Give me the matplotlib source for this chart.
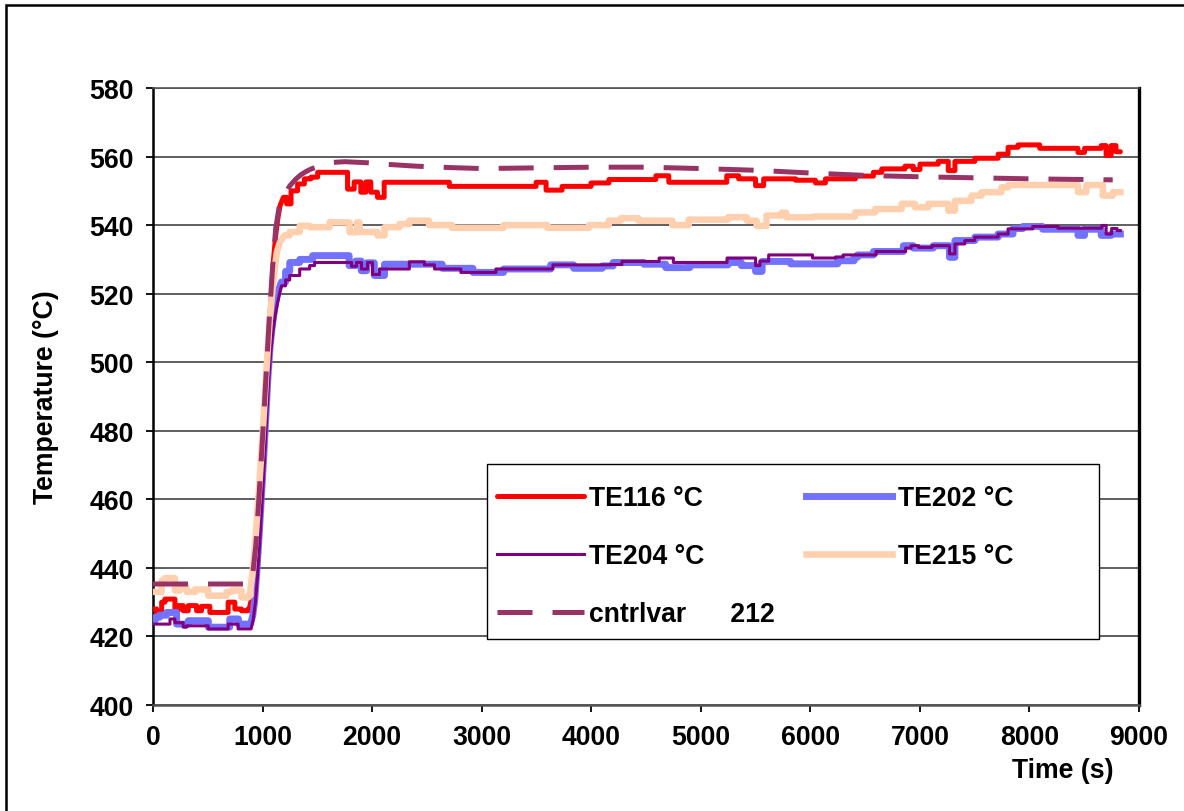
"""Thermocouple temperatures vs time, Excel-style line chart."""
import matplotlib
matplotlib.use("Agg")
import matplotlib.pyplot as plt
from matplotlib.patches import Rectangle

FS = 19.2
plt.rcParams.update({
    "font.family": ["Liberation Sans", "DejaVu Sans"],
    "font.weight": "bold",
    "font.size": FS,
})

# --- data -------------------------------------------------------------------
# logger holds each value until the next reading; during the heat-up ramp the
# points are joined directly
RAMP = (880, 1170)

red_t = [0, 33, 79, 109, 200, 231, 276, 322, 398, 443, 519, 686, 747, 808, 868,
         885, 900, 920, 940, 960, 980, 1000, 1020, 1040, 1060, 1080, 1100, 1120,
         1140, 1160, 1190, 1220, 1260, 1320, 1382, 1442, 1503, 1776, 1836, 1897,
         1943, 1988, 2049, 2110, 2705, 3497, 3588, 3734, 3998, 4162, 4590, 4708,
         5237, 5346, 5500, 5574, 5865, 6047, 6138, 6412, 6576, 6652, 6864, 6940,
         7001, 7168, 7259, 7320, 7502, 7714, 7805, 7896, 8094, 8443, 8503, 8655,
         8700, 8746, 8790, 8830]
red_v = [428, 427, 430, 430.9, 427.5, 429, 427.5, 429, 427.5, 428.8, 427, 430, 428,
         427.5, 428,
         429, 431, 436, 445, 455, 465, 476, 488, 499, 510, 520, 530, 537,
         542, 545.7, 548.1, 546.2, 550, 552, 553.5, 554, 555.4, 550.5, 552.6, 549.6,
         552.6, 549.6, 548.1, 552.5, 551.3, 552.5, 550.2, 551.3, 552.3, 553.3, 554.4, 552.5,
         554.4, 553.5, 551.5, 553.5, 553.1, 552.3, 553.5, 554.3, 555.4, 556.4, 557.2, 556.2,
         557.8, 558.6, 555.9, 558.6, 559.5, 560.7, 562.7, 563.4, 562.4, 561.2, 562.4, 563.2,
         560.3, 563.2, 561.4, 561.4]

blue_t = [0, 20, 60, 124, 215, 322, 505, 700, 780,
          890, 910, 930, 950, 970, 990, 1010, 1030, 1050, 1070, 1090, 1110, 1130,
          1150, 1172, 1210, 1248, 1339, 1457, 1790, 1850, 1900, 1950, 2020, 2113,
          2640, 2920, 3200, 3630, 3840, 4100, 4200, 4480, 4680, 4900, 5250, 5370,
          5500, 5560, 5820, 6250, 6400, 6430, 6576, 6849, 6940, 7122, 7270, 7320,
          7502, 7714, 7850, 7940, 8120, 8443, 8503, 8655, 8746, 8830]
blue_v = [424.6, 425.6, 426.2, 427, 423.6, 424.6, 422.7, 425.1, 423.6,
          423.6, 426, 431, 440, 450, 461, 472, 484, 496, 505, 511, 515.5, 519,
          521.5, 523.4, 526.5, 529.1, 530, 531.1, 528.2, 529.5, 526.7, 529, 525.3, 528.6,
          527.4, 526.2, 527.2, 528.4, 527.4, 528.1, 529.1, 528.6, 527.6, 528.4, 529.1, 528.2,
          526.5, 529.4, 528.7, 529.6, 530.6, 531.3, 532.3, 534, 533.3, 534, 530.6, 535.5,
          536.5, 537.4, 539, 539.6, 538.8, 537, 538.8, 537, 537.4, 537.4]

purple_t = [0, 155, 200, 276, 307, 504, 686, 777,
            895, 915, 935, 955, 975, 995, 1015, 1035, 1055, 1075, 1095, 1115, 1135,
            1155, 1172, 1210, 1248, 1339, 1430, 1475, 1812, 1858, 1903, 1958, 2004,
            2067, 2340, 2477, 2570, 2810, 3130, 3650, 4180, 4280, 4620, 4750, 5240,
            5500, 5540, 5620, 6020, 6230, 6300, 6600, 6870, 6920, 6990, 7110, 7270,
            7320, 7410, 7500, 7714, 7805, 8030, 8260, 8660, 8700, 8750, 8800, 8830]
purple_v = [423.6, 425.1, 424.0, 422.7, 423.1, 422.2, 423.6, 422.2,
            422.2, 425, 430, 438, 448, 459, 470, 482, 494, 503, 509, 513.5, 517,
            520, 522.3, 524, 525.3, 527.2, 528.2, 529.1, 528, 529.1, 527.2, 529.1, 525.6,
            527.2, 529.3, 528.4, 527.2, 526.2, 527.2, 528.4, 528.5, 529.4, 530.4, 529.1, 530.4,
            528.2, 529.5, 531.3, 530.4, 530.7, 531.3, 532.3, 533.3, 534, 533.5, 534, 531.6,
            534.5, 535.5, 536.5, 537.4, 538.9, 539.6, 539.1, 539.9, 537.4, 539, 538.4, 538.4]

peach_t = [0, 79, 109, 200, 246, 307, 383, 504, 671, 717, 808,
           870, 890, 910, 930, 950, 970, 990, 1010, 1030, 1050, 1070, 1090, 1110,
           1130, 1157, 1200, 1248, 1339, 1430, 1612, 1794, 1860, 1885, 2050, 2113,
           2250, 2340, 2520, 2730, 3200, 3600, 3980, 4160, 4270, 4430, 4740, 4890,
           5250, 5420, 5510, 5600, 5740, 5780, 6030, 6409, 6591, 6834, 6955, 7077,
           7259, 7320, 7471, 7562, 7744, 7805, 8443, 8519, 8670, 8761, 8830]
peach_v = [433, 436.3, 437, 433.4, 434.4, 433, 433.7, 431.9, 433, 433.4, 431.4,
           432, 434, 439, 446, 455, 464, 474, 484, 495, 505, 514, 521, 527,
           532, 535, 537, 538, 539.8, 539.4, 540.8, 537.9, 540.8, 538, 537, 539.4,
           540.3, 541.3, 540, 539.2, 540, 539.2, 540, 541.3, 542, 541.3, 540, 541.6,
           542.3, 541.3, 539.8, 542.8, 543.6, 542.3, 542.5, 543.7, 544.7, 546.2, 545.2, 546.2,
           544.2, 547.1, 548.6, 549.6, 551, 551.7, 549.6, 551.7, 548.6, 549.6, 549.6]

ctrl_t = [0, 880, 910, 940, 970, 1000, 1030, 1060, 1090, 1120, 1150, 1200, 1250,
          1300, 1350, 1400, 1445, 1550, 1650, 1750, 1950, 2100, 2400, 2700, 3000,
          3500, 4000, 4500, 5000, 5500, 6000, 6500, 7000, 7500, 8000, 8500, 8760]
ctrl_v = [435.3, 435.3, 438, 447, 462, 478, 495, 512, 527, 539, 545, 549, 551.5,
          553.3, 554.7, 555.7, 556.4, 557.5, 558.3, 558.5, 558.2, 557.8, 557.2, 556.8, 556.5,
          556.7, 556.9, 556.9, 556.5, 556.0, 555.2, 554.5, 554.1, 553.8, 553.5, 553.3, 553.2]

X_TICKS = list(range(0, 9001, 1000))
Y_TICKS = list(range(400, 581, 20))


def hold(t, v, ramp=RAMP):
    """Sample-and-hold path, but straight segments inside the ramp window."""
    xs, ys = [], []
    for i in range(len(t)):
        xs.append(t[i])
        ys.append(v[i])
        if i + 1 < len(t) and not (ramp[0] <= t[i] < ramp[1]):
            xs.append(t[i + 1])
            ys.append(v[i])
    return xs, ys


W, H = 1184, 812
fig = plt.figure(figsize=(W / 100, H / 100), dpi=100)
fig.patch.set_facecolor("white")
ax = fig.add_axes([153 / W, 106 / H, 986 / W, 617 / H])

l_red, = ax.plot(*hold(red_t, red_v), color="#FF0000", lw=3.6,
                 solid_joinstyle="round", solid_capstyle="round", zorder=3)
l_blue, = ax.plot(*hold(blue_t, blue_v), color="#7272FF", lw=5.0,
                  solid_joinstyle="round", zorder=3)
l_pur, = ax.plot(*hold(purple_t, purple_v), color="#800080", lw=2.2, zorder=3)
l_pea, = ax.plot(*hold(peach_t, peach_v), color="#FFCFAE", lw=4.7, zorder=3)
l_ctl, = ax.plot(ctrl_t, ctrl_v, color="#993366", lw=3.6, dashes=(7, 4), zorder=3)

ax.set_xlim(0, 9000)
ax.set_ylim(400, 580)
ax.set_xticks(X_TICKS)
ax.set_yticks(Y_TICKS)
ax.tick_params(direction="out", length=5, width=1.3, pad=9, labelsize=FS,
               colors="black")
ax.yaxis.grid(True, color="#333333", lw=1.1)
ax.set_axisbelow(True)
ax.spines["left"].set_linewidth(1.8)
ax.spines["left"].set_color("black")
ax.spines["right"].set_linewidth(2.4)
ax.spines["right"].set_color("black")
ax.spines["bottom"].set_linewidth(1.8)
ax.spines["bottom"].set_color("#555555")
ax.spines["top"].set_linewidth(1.2)
ax.spines["top"].set_color("#555555")

# legend frame is bigger than its contents (Excel style), so draw it separately
ax.add_patch(Rectangle((0.3387, 0.1070), 0.6207, 0.2836, transform=ax.transAxes,
                       facecolor="white", edgecolor="black", lw=1.0, zorder=5))
ax.legend([l_red, l_pur, l_ctl, l_blue, l_pea],
          ["TE116 °C", "TE204 °C", "cntrlvar      212", "TE202 °C", "TE215 °C"],
          ncol=2, loc="upper left", bbox_to_anchor=(0.3387, 0.373),
          frameon=False, fontsize=FS, handlelength=3.25, handletextpad=0.2,
          columnspacing=1.15, labelspacing=1.2, borderpad=0.385,
          borderaxespad=0).set_zorder(6)

fig.text(46 / W, 0.511, "Temperature (°C)", rotation=90, ha="center", va="center",
         fontsize=FS, fontweight="bold")
fig.text(1063 / W, 1 - 778 / H, "Time (s)", ha="center", va="baseline",
         fontsize=FS, fontweight="bold")

# outer chart border (only top and left edges are inside the picture)
fig.add_artist(Rectangle((6 / W, -0.5), 2, 1 - 6 / H + 0.5, transform=fig.transFigure,
                         facecolor="none", edgecolor="black", lw=1.8))

fig.savefig("out.png", dpi=100, facecolor="white")
